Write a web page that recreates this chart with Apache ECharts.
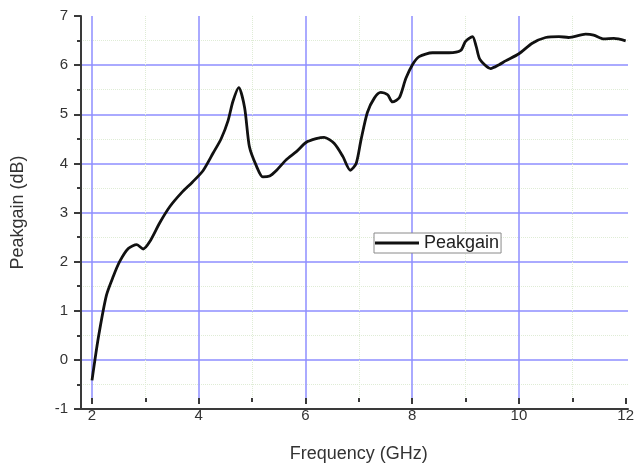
<!DOCTYPE html>
<html>
<head>
<meta charset="utf-8">
<script src="https://cdn.jsdelivr.net/npm/echarts@6/dist/echarts.min.js"></script>
<style>
  html, body { margin: 0; padding: 0; background: #fff; }
  #chart { width: 637px; height: 468px; }
</style>
</head>
<body>
<div id="chart"></div>
<script>
// Peak gain versus frequency
const freqGHz = [
  2.00, 2.12, 2.27, 2.40, 2.52, 2.68, 2.84, 2.96, 3.08, 3.27, 3.46, 3.68, 3.88, 4.08,
  4.27, 4.42, 4.55, 4.64, 4.75, 4.86, 4.95, 5.08, 5.20, 5.33, 5.45, 5.64, 5.83, 6.01,
  6.20, 6.35, 6.54, 6.70, 6.84, 6.95, 7.04, 7.16, 7.29, 7.41, 7.54, 7.63, 7.76, 7.88,
  8.01, 8.13, 8.38, 8.69, 8.91, 9.00, 9.13, 9.20, 9.27, 9.47, 9.63, 9.75, 10.00, 10.25,
  10.50, 10.75, 10.93, 11.25, 11.40, 11.59, 11.78, 12.00
];
const peakGainDb = [
  -0.63, 0.27, 1.15, 1.55, 1.86, 2.13, 2.21, 2.12, 2.27, 2.67, 3.01, 3.30, 3.52, 3.76,
  4.13, 4.43, 4.81, 5.21, 5.50, 5.08, 4.26, 3.86, 3.63, 3.65, 3.76, 3.99, 4.16, 4.35,
  4.43, 4.46, 4.33, 4.06, 3.77, 3.91, 4.40, 4.98, 5.28, 5.40, 5.35, 5.20, 5.29, 5.69,
  5.99, 6.15, 6.23, 6.23, 6.28, 6.47, 6.57, 6.36, 6.09, 5.90, 5.98, 6.06, 6.21, 6.43,
  6.55, 6.57, 6.55, 6.62, 6.60, 6.52, 6.53, 6.48
];
const seriesName = 'Peakgain';
const xTitle = 'Frequency (GHz)';
const yTitle = 'Peakgain (dB)';

const chart = echarts.init(document.getElementById('chart'));

const textColor = '#333';
const majorGrid = '#8e8eff';
const minorGrid = '#dfecd6';
const axisColor = '#3a3a3a';
const font = 'Liberation Sans, Arial, sans-serif';

chart.setOption({
  animation: false,
  backgroundColor: '#fff',
  grid: [
    // frame grid: carries the y axis and the full-length bottom axis line
    { left: 81, right: 9, top: 16, bottom: 59, containLabel: false },
    // data grid: x from 2 GHz, inset from the y axis
    { left: 92, right: 9, top: 16, bottom: 59, containLabel: false }
  ],
  legend: {
    data: [{ name: seriesName, icon: 'rect' }],
    left: 374,
    top: 233,
    itemWidth: 44,
    itemHeight: 3,
    padding: [1, 2, 1, 1],
    borderColor: '#8a8a8a',
    borderWidth: 1,
    borderRadius: 0,
    backgroundColor: '#fff',
    textStyle: { fontFamily: font, fontSize: 18, color: '#222' },
    itemStyle: { color: '#111' }
  },
  xAxis: [
    {
      gridIndex: 0,
      type: 'value',
      min: 1.8,
      max: 12,
      axisLine: { show: true, onZero: false, lineStyle: { color: axisColor, width: 2 } },
      axisTick: { show: false },
      axisLabel: { show: false },
      splitLine: { show: false },
      minorSplitLine: { show: false }
    },
    {
      gridIndex: 1,
      type: 'value',
      min: 2,
      max: 12,
      interval: 2,
      name: xTitle,
      nameLocation: 'middle',
      nameGap: 47,
      nameTextStyle: { fontFamily: font, fontSize: 18, color: textColor },
      axisLine: { show: false, onZero: false },
      axisTick: { show: true, length: 6, lineStyle: { color: axisColor, width: 2 } },
      minorTick: { show: true, splitNumber: 2, length: 4, lineStyle: { color: axisColor, width: 2 } },
      axisLabel: { fontFamily: font, fontSize: 15, color: textColor, margin: 10 },
      splitLine: { show: true, showMaxLine: false, lineStyle: { color: majorGrid, width: 1.5 } },
      minorSplitLine: { show: true, lineStyle: { color: minorGrid, width: 1, type: 'dotted' } }
    }
  ],
  yAxis: [
    {
      gridIndex: 0,
      type: 'value',
      min: -1,
      max: 7,
      interval: 1,
      name: yTitle,
      nameLocation: 'middle',
      nameGap: 54,
      nameTextStyle: { fontFamily: font, fontSize: 18, color: textColor },
      axisLine: { show: true, onZero: false, lineStyle: { color: axisColor, width: 2 } },
      axisTick: { show: true, length: 7, lineStyle: { color: axisColor, width: 2 } },
      minorTick: { show: true, splitNumber: 2, length: 4, lineStyle: { color: axisColor, width: 2 } },
      axisLabel: { fontFamily: font, fontSize: 15, color: textColor, margin: 13 },
      splitLine: { show: true, showMinLine: false, showMaxLine: false, lineStyle: { color: majorGrid, width: 1.5 } },
      minorSplitLine: { show: true, lineStyle: { color: minorGrid, width: 1, type: 'dotted' } }
    },
    {
      gridIndex: 1,
      type: 'value',
      min: -1,
      max: 7,
      interval: 1,
      show: false,
      axisLine: { onZero: false },
      splitLine: { show: false }
    }
  ],
  series: [
    {
      name: seriesName,
      type: 'line',
      xAxisIndex: 1,
      yAxisIndex: 1,
      data: freqGHz.map((f, i) => [f, peakGainDb[i]]),
      symbol: 'none',
      smooth: 0.25,
      lineStyle: { color: '#111', width: 2.8 },
      itemStyle: { color: '#111' },
      z: 5
    }
  ]
});
</script>
</body>
</html>
